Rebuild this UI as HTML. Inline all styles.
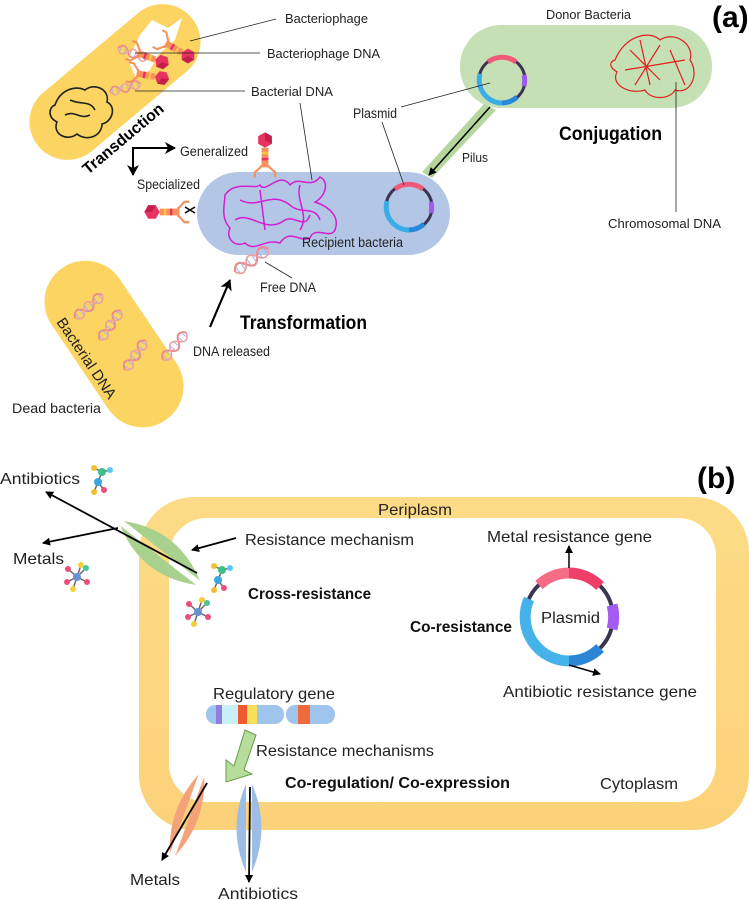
<!DOCTYPE html>
<html><head><meta charset="utf-8"><style>
html,body{margin:0;padding:0;background:#fff;}
svg{display:block;font-family:"Liberation Sans",sans-serif;}
</style></head><body>
<svg width="749" height="900" viewBox="0 0 749 900" xmlns="http://www.w3.org/2000/svg">
<defs>
<marker id="ah" markerWidth="8" markerHeight="8" refX="7" refY="4" orient="auto" markerUnits="userSpaceOnUse"><path d="M0,0 L8,4 L0,8 Z" fill="#000"/></marker>
<marker id="ahb" markerWidth="12" markerHeight="12" refX="10" refY="6" orient="auto" markerUnits="userSpaceOnUse"><path d="M0,0 L11,6 L0,12 L3,6 Z" fill="#000"/></marker>
<linearGradient id="fr" x1="0" y1="0" x2="0" y2="1"><stop offset="0" stop-color="#fddb86"/><stop offset="1" stop-color="#fbd27a"/></linearGradient>
<g id="phage">
<polygon points="0,-9 8,-4.5 8,4.5 0,9 -8,4.5 -8,-4.5" fill="#e8325f"/>
<polygon points="0,-9 8,-4.5 8,4.5 0,0" fill="#c41d4a"/>
<rect x="-4" y="9" width="8" height="22" fill="#f7905a"/>
<rect x="-4" y="14" width="8" height="3" fill="#f6c744"/>
<rect x="-4" y="21" width="8" height="3" fill="#e8325f"/>
<path d="M-4,31 L-12,38 L-12,44 M4,31 L12,38 L12,44 M-6,31 L6,31" stroke="#f7905a" stroke-width="2.5" fill="none"/>
</g>
<g id="helix">
<path d="M0,0 C5,-8 10,-8 15,0 S25,8 30,0 S40,-8 45,0" stroke="#f08a8a" stroke-width="2.5" fill="none"/>
<path d="M0,0 C5,8 10,8 15,0 S25,-8 30,0 S40,8 45,0" stroke="#f0a0a0" stroke-width="2" fill="none"/>
<path d="M4,-4 v8 M11,-5 v10 M19,-5 v10 M26,-4 v8 M34,-5 v10 M41,-4 v8" stroke="#a9b4e0" stroke-width="1.2"/>
</g>
<g id="mol">
<line x1="0" y1="0" x2="-9" y2="-8" stroke="#666" stroke-width="1.5"/><line x1="0" y1="0" x2="9" y2="-9" stroke="#666" stroke-width="1.5"/>
<line x1="0" y1="0" x2="-10" y2="5" stroke="#666" stroke-width="1.5"/><line x1="0" y1="0" x2="10" y2="5" stroke="#666" stroke-width="1.5"/>
<line x1="0" y1="0" x2="-4" y2="12" stroke="#666" stroke-width="1.5"/><line x1="0" y1="0" x2="4" y2="-12" stroke="#666" stroke-width="1.5"/>
<circle cx="0" cy="0" r="4" fill="#6b8fd6"/><circle cx="-9" cy="-8" r="3" fill="#e94f7a"/><circle cx="9" cy="-9" r="3" fill="#4cc49a"/>
<circle cx="-10" cy="5" r="3" fill="#e94f7a"/><circle cx="10" cy="5" r="3" fill="#e94f7a"/><circle cx="-4" cy="12" r="3" fill="#f4cf3c"/><circle cx="4" cy="-12" r="3" fill="#f4cf3c"/>
</g>
<g id="mol2">
<line x1="0" y1="0" x2="4" y2="-10" stroke="#666" stroke-width="1.5"/><line x1="4" y1="-10" x2="12" y2="-12" stroke="#666" stroke-width="1.5"/>
<line x1="0" y1="0" x2="6" y2="8" stroke="#666" stroke-width="1.5"/><line x1="0" y1="0" x2="-4" y2="10" stroke="#666" stroke-width="1.5"/><line x1="4" y1="-10" x2="-4" y2="-14" stroke="#666" stroke-width="1.5"/>
<circle cx="0" cy="0" r="4" fill="#3aa8e0"/><circle cx="4" cy="-10" r="4" fill="#3cc08a"/><circle cx="12" cy="-12" r="3" fill="#5cc8f0"/><circle cx="-4" cy="-14" r="3" fill="#f0c030"/>
<circle cx="6" cy="8" r="3" fill="#e94f7a"/><circle cx="-4" cy="10" r="3" fill="#f0c030"/>
</g>
</defs>

<!-- ========== (a) ========== -->
<text x="712" y="27" font-size="30" font-weight="bold">(a)</text>

<g transform="translate(115,82) rotate(-40)">
<rect x="-100" y="-38" width="200" height="76" rx="38" fill="#fbd462"/>
</g>
<polygon points="140,35 152,20 168,28 182,18 175,40 158,55 150,70 136,78 128,60" fill="#fff"/>
<path d="M55,105 c5,-15 20,-20 30,-15 c10,-8 25,0 22,12 c10,5 5,20 -5,22 c0,12 -15,18 -25,10 c-10,8 -25,0 -20,-12 c-10,-5 -8,-15 -2,-17 z M70,100 c10,5 20,0 25,10 M65,115 c10,-5 15,5 25,0" stroke="#222" stroke-width="1.6" fill="none"/>
<use href="#helix" transform="translate(118,48) rotate(20) scale(0.7)"/>
<use href="#helix" transform="translate(110,92) rotate(-15) scale(0.7)"/>
<use href="#phage" transform="translate(188,56) rotate(120) scale(0.8)"/>
<use href="#phage" transform="translate(162,62) rotate(110) scale(0.8)"/>
<use href="#phage" transform="translate(162,78) rotate(100) scale(0.8)"/>
<line x1="276" y1="19" x2="190" y2="41" stroke="#222" stroke-width="0.8"/>
<line x1="260" y1="53" x2="135" y2="53" stroke="#222" stroke-width="0.8"/>
<line x1="245" y1="91" x2="135" y2="91" stroke="#222" stroke-width="0.8"/>
<text x="285" y="23" font-size="13" fill="#222" textLength="83" lengthAdjust="spacingAndGlyphs">Bacteriophage</text>
<text x="267" y="58" font-size="13" fill="#222" textLength="113" lengthAdjust="spacingAndGlyphs">Bacteriophage DNA</text>
<text x="251" y="96" font-size="13" fill="#222" textLength="82" lengthAdjust="spacingAndGlyphs">Bacterial DNA</text>
<text transform="translate(88,175) rotate(-40)" font-size="16" font-weight="bold">Transduction</text>
<path d="M133,175 L133,148 L175,148" stroke="#000" stroke-width="2" fill="none" marker-end="url(#ahb)"/>
<line x1="133" y1="150" x2="133" y2="175" stroke="#000" stroke-width="2" marker-end="url(#ahb)"/>
<text x="180" y="156" font-size="13.5" fill="#222" textLength="68" lengthAdjust="spacingAndGlyphs">Generalized</text>
<text x="137" y="189" font-size="13.5" fill="#222" textLength="63" lengthAdjust="spacingAndGlyphs">Specialized</text>

<rect x="460" y="25" width="252" height="83" rx="41" fill="#c5e0b4"/>
<text x="546" y="19" font-size="13" fill="#222" textLength="85" lengthAdjust="spacingAndGlyphs">Donor Bacteria</text>
<path d="M615,60 c10,-25 35,-30 45,-20 c15,-10 35,5 30,20 c10,15 0,35 -15,30 c-5,10 -25,10 -30,0 c-15,5 -35,-5 -28,-18 c-8,-5 -8,-10 -2,-12 z M630,50 l30,30 M640,40 l10,45 M660,45 l-25,40 M625,70 l60,-10 M670,50 l15,35" stroke="#e02020" stroke-width="1.2" fill="none"/>
<line x1="676" y1="82" x2="676" y2="212" stroke="#222" stroke-width="0.8"/>
<text x="608" y="228" font-size="13" fill="#222" textLength="113" lengthAdjust="spacingAndGlyphs">Chromosomal DNA</text>
<text x="559" y="140" font-size="19" font-weight="bold" textLength="103" lengthAdjust="spacingAndGlyphs">Conjugation</text>
<polygon points="484,104 496,110 432,178 422,172" fill="#b5d69c"/>
<line x1="490" y1="107" x2="429" y2="175" stroke="#000" stroke-width="1.5" marker-end="url(#ah)"/>
<text x="462" y="162" font-size="13" fill="#222" textLength="26" lengthAdjust="spacingAndGlyphs">Pilus</text>

<rect x="197" y="172" width="253" height="83" rx="42" fill="#b4c6e6"/>
<path d="M225,195 c10,-15 30,-5 35,-10 c5,10 20,-15 30,0 c10,-10 20,5 30,-8 c10,5 5,20 -5,25 c15,5 25,15 20,28 c-5,10 -20,-5 -25,8 c-10,5 -20,-10 -30,5 c-15,-5 -25,10 -35,0 c-10,5 -20,-5 -15,-15 c-10,-10 -5,-25 -5,-33 z M240,200 c20,10 30,-10 50,5 c10,10 25,0 30,15 M235,220 c15,-10 30,15 50,0 c10,-5 20,10 25,-5 M260,190 l5,40 M300,185 c-5,15 10,30 0,45" stroke="#d21fd2" stroke-width="1.5" fill="none"/>
<use href="#phage" transform="translate(265,140) scale(0.85)"/>
<use href="#phage" transform="translate(152,212) rotate(-90) scale(0.85)"/>
<path d="M185,207 l10,6 m-10,0 l10,-6" stroke="#000" stroke-width="1.5"/>
<text x="302" y="247" font-size="13.5" fill="#222" textLength="101" lengthAdjust="spacingAndGlyphs">Recipient bacteria</text>

<g transform="translate(502,80)">
<circle r="23" fill="none" stroke="#3b3650" stroke-width="3"/>
<path d="M-14,-18 A23,23 0 0 1 14,-18" stroke="#f05a78" stroke-width="5" fill="none"/>
<path d="M22,-5 A23,23 0 0 1 22,6" stroke="#a05af0" stroke-width="5" fill="none"/>
<path d="M-22,-6 A23,23 0 0 0 0,23" stroke="#3aace8" stroke-width="5" fill="none"/>
<path d="M0,23 A23,23 0 0 0 15,17" stroke="#2a88d8" stroke-width="5" fill="none"/>
</g>
<g transform="translate(409,207)">
<circle r="23" fill="none" stroke="#3b3650" stroke-width="3"/>
<path d="M-14,-18 A23,23 0 0 1 14,-18" stroke="#f05a78" stroke-width="5" fill="none"/>
<path d="M22,-5 A23,23 0 0 1 22,6" stroke="#a05af0" stroke-width="5" fill="none"/>
<path d="M-22,-6 A23,23 0 0 0 0,23" stroke="#3aace8" stroke-width="5" fill="none"/>
<path d="M0,23 A23,23 0 0 0 15,17" stroke="#2a88d8" stroke-width="5" fill="none"/>
</g>
<text x="353" y="118" font-size="13.5" fill="#222" textLength="44" lengthAdjust="spacingAndGlyphs">Plasmid</text>
<line x1="401" y1="107" x2="490" y2="83" stroke="#222" stroke-width="0.8"/>
<line x1="382" y1="122" x2="404" y2="185" stroke="#222" stroke-width="0.8"/>
<line x1="300" y1="103" x2="312" y2="180" stroke="#222" stroke-width="0.8"/>

<use href="#helix" transform="translate(235,272) rotate(-35) scale(0.9)"/>
<line x1="265" y1="262" x2="292" y2="278" stroke="#222" stroke-width="0.8"/>
<text x="260" y="292" font-size="13.5" fill="#222" textLength="56" lengthAdjust="spacingAndGlyphs">Free DNA</text>
<line x1="210" y1="327" x2="230" y2="280" stroke="#000" stroke-width="2.2" marker-end="url(#ahb)"/>
<text x="240" y="329" font-size="19" font-weight="bold" textLength="127" lengthAdjust="spacingAndGlyphs">Transformation</text>

<g transform="translate(114,344) rotate(56)">
<rect x="-92" y="-41" width="184" height="82" rx="41" fill="#fbd462"/>
</g>
<use href="#helix" transform="translate(75,318) rotate(-40) scale(0.8)"/>
<use href="#helix" transform="translate(100,340) rotate(-55) scale(0.8)"/>
<use href="#helix" transform="translate(125,370) rotate(-55) scale(0.8)"/>
<use href="#helix" transform="translate(163,360) rotate(-50) scale(0.8)"/>
<text transform="translate(56,322) rotate(56)" font-size="15" fill="#222">Bacterial DNA</text>
<text x="193" y="356" font-size="13.5" fill="#222" textLength="77" lengthAdjust="spacingAndGlyphs">DNA released</text>
<text x="12" y="413" font-size="14" fill="#222" textLength="89" lengthAdjust="spacingAndGlyphs">Dead bacteria</text>

<!-- ========== (b) ========== -->
<text x="697" y="488" font-size="30" font-weight="bold">(b)</text>
<rect x="139" y="497" width="610" height="333" rx="55" fill="url(#fr)"/>
<rect x="169" y="518" width="547" height="284" rx="38" fill="#fff"/>
<text x="378" y="515" font-size="16" fill="#222" textLength="74" lengthAdjust="spacingAndGlyphs">Periplasm</text>

<text x="0" y="484" font-size="16" fill="#222" textLength="80" lengthAdjust="spacingAndGlyphs">Antibiotics</text>
<use href="#mol2" transform="translate(98,482)"/>
<text x="13" y="564" font-size="16" fill="#222" textLength="51" lengthAdjust="spacingAndGlyphs">Metals</text>
<use href="#mol" transform="translate(77,577)"/>
<g transform="translate(160,553) rotate(38)">
<path d="M-48,-3 Q0,-30 48,-3 Z" fill="#a9d18e"/>
<path d="M-48,3 Q0,30 48,3 Z" fill="#a9d18e"/>
</g>
<line x1="197" y1="573" x2="46" y2="492" stroke="#000" stroke-width="1.8" marker-end="url(#ah)"/>
<line x1="118" y1="528" x2="43" y2="543" stroke="#000" stroke-width="1.8" marker-end="url(#ah)"/>
<line x1="236" y1="538" x2="192" y2="550" stroke="#000" stroke-width="1.8" marker-end="url(#ah)"/>
<text x="245" y="545" font-size="16" fill="#222" textLength="169" lengthAdjust="spacingAndGlyphs">Resistance mechanism</text>
<use href="#mol2" transform="translate(218,580)"/>
<use href="#mol" transform="translate(198,612)"/>
<text x="248" y="599" font-size="16" font-weight="bold" fill="#111" textLength="123" lengthAdjust="spacingAndGlyphs">Cross-resistance</text>

<g transform="translate(569,617)">
<circle r="44" fill="none" stroke="#3b3650" stroke-width="4"/>
<path d="M-30,-32 A44,44 0 0 1 0,-44" stroke="#f56c84" stroke-width="11" fill="none"/>
<path d="M0,-44 A44,44 0 0 1 31,-31" stroke="#ef3f69" stroke-width="11" fill="none"/>
<path d="M43,-12 A44,44 0 0 1 43,12" stroke="#a45cf0" stroke-width="11" fill="none"/>
<path d="M-40,-18 A44,44 0 0 0 0,44" stroke="#45b2ea" stroke-width="11" fill="none"/>
<path d="M0,44 A44,44 0 0 0 31,31" stroke="#2b86d5" stroke-width="11" fill="none"/>
<text x="-28" y="6" font-size="16" fill="#222" textLength="59" lengthAdjust="spacingAndGlyphs">Plasmid</text>
</g>
<line x1="569" y1="568" x2="569" y2="546" stroke="#000" stroke-width="1.5" marker-end="url(#ah)"/>
<line x1="569" y1="665" x2="600" y2="674" stroke="#000" stroke-width="1.5" marker-end="url(#ah)"/>
<text x="487" y="542" font-size="16" fill="#222" textLength="165" lengthAdjust="spacingAndGlyphs">Metal resistance gene</text>
<text x="503" y="697" font-size="16" fill="#222" textLength="194" lengthAdjust="spacingAndGlyphs">Antibiotic resistance gene</text>
<text x="410" y="632" font-size="16" font-weight="bold" fill="#111" textLength="102" lengthAdjust="spacingAndGlyphs">Co-resistance</text>

<text x="213" y="699" font-size="16" fill="#222" textLength="122" lengthAdjust="spacingAndGlyphs">Regulatory gene</text>
<rect x="206" y="705" width="78" height="19" rx="9" fill="#9fc5ee"/>
<rect x="286" y="705" width="49" height="19" rx="9" fill="#9fc5ee"/>
<rect x="216" y="705" width="6" height="19" fill="#8f7fe0"/>
<rect x="222" y="705" width="16" height="19" fill="#c9f0f8"/>
<rect x="238" y="705" width="9" height="19" fill="#f05a30"/>
<rect x="247" y="705" width="10" height="19" fill="#f7e05a"/>
<rect x="298" y="705" width="12" height="19" fill="#f06a3c"/>
<polygon points="245,730 256,735 244,770 252,774 226,782 226,760 234,766" fill="#b7dd9c" stroke="#6a9a4a" stroke-width="1"/>
<text x="256" y="756" font-size="16" fill="#222" textLength="178" lengthAdjust="spacingAndGlyphs">Resistance mechanisms</text>
<text x="285" y="788" font-size="16" font-weight="bold" fill="#111" textLength="225" lengthAdjust="spacingAndGlyphs">Co-regulation/ Co-expression</text>
<text x="600" y="789" font-size="16" fill="#222" textLength="78" lengthAdjust="spacingAndGlyphs">Cytoplasm</text>

<g transform="translate(187,815) rotate(20)">
<path d="M-3,-42 Q-20,0 -3,42 Z" fill="#f4a27a"/>
<path d="M3,-42 Q20,0 3,42 Z" fill="#f4a27a"/>
</g>
<line x1="207" y1="783" x2="162" y2="860" stroke="#000" stroke-width="1.8" marker-end="url(#ah)"/>
<g transform="translate(249,828)">
<path d="M-3,-44 Q-22,0 -3,44 Z" fill="#9dbde6"/>
<path d="M3,-44 Q22,0 3,44 Z" fill="#9dbde6"/>
</g>
<line x1="250" y1="787" x2="249" y2="882" stroke="#000" stroke-width="1.8" marker-end="url(#ah)"/>
<text x="130" y="885" font-size="16" fill="#222" textLength="50" lengthAdjust="spacingAndGlyphs">Metals</text>
<text x="218" y="899" font-size="16" fill="#222" textLength="80" lengthAdjust="spacingAndGlyphs">Antibiotics</text>
</svg>
</body></html>
